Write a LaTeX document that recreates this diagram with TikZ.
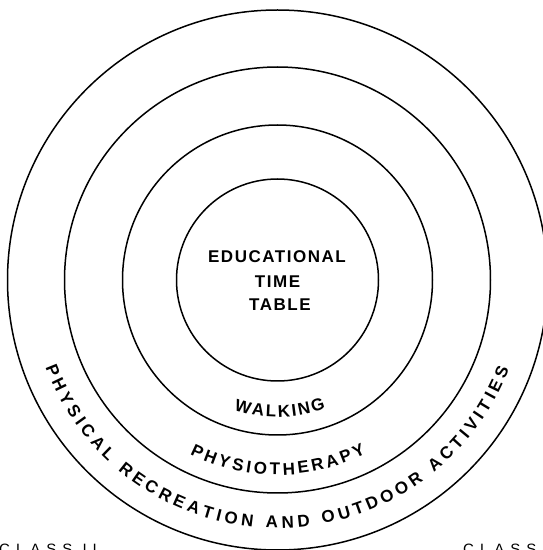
\documentclass[tikz,border=0pt]{standalone}
\usepackage{fontspec}
\usetikzlibrary{decorations.text}
\newfontfamily\ctrfont{Liberation Sans}[LetterSpace=9]
\newfontfamily\arcfont{Liberation Sans}
\newfontfamily\classfont{Liberation Sans}[LetterSpace=40]
\tikzset{
  ring/.style={line width=1.5pt, draw=black},
  ctrlabel/.style={font=\ctrfont\bfseries\fontsize{17}{20}\selectfont, anchor=base, inner sep=0pt},
  classlabel/.style={font=\classfont\fontsize{15}{18}\selectfont, anchor=base west, inner sep=0pt},
}
\newcommand{\arclabelfont}{\arcfont\bfseries\fontsize{17}{20}\selectfont}
\begin{document}
\begin{tikzpicture}[x=1pt,y=1pt]
\useasboundingbox (0,0) rectangle (543,550);
\fill[white] (0,0) rectangle (543,550);
\clip (0,0) rectangle (543,550);
\coordinate (c) at (277.5,270);
% rings
\draw[ring] (c) circle[radius=101];
\draw[ring] (c) circle[radius=155];
\draw[ring] (c) circle[radius=213];
\draw[ring] (c) circle[radius=270];
% centre text
\node[ctrlabel] (edu) at (277,287) {EDUCATIONAL};
\node[ctrlabel] (time) at (277.5,262) {TIME};
\node[ctrlabel] (table) at (280,239) {TABLE};
% curved texts
\path[decorate, decoration={text along path, text align=fit to path,
  text={|\arclabelfont|WALKING}}]
  ([shift={(251.5:137)}]c) arc[start angle=251.5, end angle=290.6, radius=137];
\path[decorate, decoration={text along path, text align=fit to path,
  text={|\arclabelfont|PHYSIOTHERAPY}}]
  ([shift={(243.3:195)}]c) arc[start angle=243.3, end angle=297, radius=195];
\path[decorate, decoration={text along path, text align=fit to path,
  text={|\arclabelfont|PHYSICAL RECREATION AND OUTDOOR ACTIVITIES}}]
  ([shift={(200.7:248)}]c) arc[start angle=200.7, end angle=339, radius=248];
% class labels (cut by the frame)
\node[classlabel] (classii) at (-1,-4.5) {CLASS II};
\node[classlabel] (classr) at (463,-4.5) {CLASS};
\end{tikzpicture}
\end{document}
